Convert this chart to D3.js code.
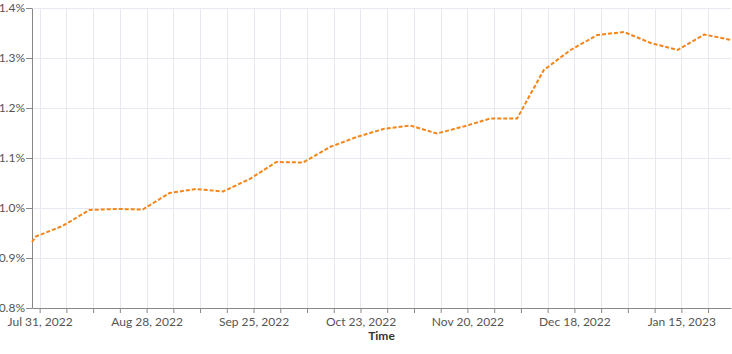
<!DOCTYPE html>
<html>
<head>
<meta charset="utf-8">
<script src="https://cdn.jsdelivr.net/npm/d3@7"></script>
<style>
    body { margin: 0; background: #fff; }
    svg { display: block; font-family: Lato, "Open Sans", sans-serif; }
</style>
</head>
<body>
<div id="container"></div>
<script>
// weekly observations (the first one is a day before the weekly series starts)
const dates = [
    "2022-07-29", "2022-07-30", "2022-08-06", "2022-08-13", "2022-08-20", "2022-08-27",
    "2022-09-03", "2022-09-10", "2022-09-17", "2022-09-24", "2022-10-01", "2022-10-08",
    "2022-10-15", "2022-10-22", "2022-10-29", "2022-11-05", "2022-11-12", "2022-11-19",
    "2022-11-26", "2022-12-03", "2022-12-10", "2022-12-17", "2022-12-24", "2022-12-31",
    "2023-01-07", "2023-01-14", "2023-01-21", "2023-01-28"
]
const values = [
    0.932, 0.943, 0.964, 0.996, 0.998, 0.997,
    1.030, 1.038, 1.033, 1.058, 1.092, 1.091,
    1.122, 1.142, 1.158, 1.165, 1.149, 1.163,
    1.179, 1.179, 1.276, 1.316, 1.346, 1.352,
    1.330, 1.316, 1.347, 1.336
]
const yTicks = [0.8, 0.9, 1.0, 1.1, 1.2, 1.3, 1.4]
const xTitle = "Time"

const width = 732
const height = 354
const margin = {
    left: 32,
    top: 8,
    right: 1,
    bottom: 46,
};

const parse = d3.utcParse("%Y-%m-%d")
const data = dates.map((d, i) => ({ date: parse(d), value: values[i] }))

const svg = d3.select('#container')
    .append('svg').attr('width', width).attr('height', height)

const x = d3.scaleUtc()
    .domain(d3.extent(data, d => d.date))
    .range([margin.left, width - margin.right])
const y = d3.scaleLinear()
    .domain([d3.min(yTicks), d3.max(yTicks)])
    .range([height - margin.bottom, margin.top])

const sundays = d3.utcSunday.range(x.domain()[0], x.domain()[1])
const fmt = d3.utcFormat("%b %-d, %Y")

// grid
svg.append('g')
    .selectAll('line.hgrid')
    .data(yTicks)
    .join('line')
    .attr('x1', margin.left).attr('x2', width - margin.right)
    .attr('y1', d => y(d) + 0.5).attr('y2', d => y(d) + 0.5)
    .attr('stroke', '#e6e9ef')
svg.append('g')
    .selectAll('line.vgrid')
    .data(sundays)
    .join('line')
    .attr('x1', d => Math.round(x(d)) + 0.5).attr('x2', d => Math.round(x(d)) + 0.5)
    .attr('y1', margin.top).attr('y2', height - margin.bottom)
    .attr('stroke', '#e6e9ef')

// axes
const xAxis = svg.append('g')
    .attr('transform', 'translate(0,' + (height - margin.bottom) + ')')
    .call(d3.axisBottom(x)
        .tickValues(sundays)
        .tickSize(5)
        .tickSizeOuter(0)
        .tickFormat((d, i) => i % 4 == 0 ? fmt(d) : ''))
const yAxis = svg.append('g')
    .attr('transform', 'translate(' + margin.left + ',0)')
    .call(d3.axisLeft(y)
        .tickValues(yTicks)
        .tickSize(6)
        .tickSizeOuter(0)
        .tickFormat(d => d3.format(".1f")(d) + '%'))

;[xAxis, yAxis].forEach(a => {
    a.select('.domain').attr('stroke', '#888')
    a.selectAll('.tick line').attr('stroke', '#888')
    a.selectAll('.tick text')
        .attr('fill', '#555')
        .style('font-size', '12px')
        .style('font-family', 'Lato, sans-serif')
})
xAxis.selectAll('.tick text').attr('dy', '0.95em').attr('y', 7)
yAxis.selectAll('.tick text').attr('x', -7)

svg.append('text')
    .attr('x', (margin.left + width - margin.right) / 2)
    .attr('y', 340)
    .attr('text-anchor', 'middle')
    .attr('fill', '#333')
    .style('font-size', '12px')
    .style('font-weight', 'bold')
    .text(xTitle)

// line
const line = d3.line()
    .x(d => x(d.date))
    .y(d => y(d.value))

svg.append('path')
    .datum(data)
    .attr('d', line)
    .attr('fill', 'none')
    .attr('stroke', '#f58518')
    .attr('stroke-width', 2)
    .attr('stroke-dasharray', '4 2')
</script>
</body>
</html>
